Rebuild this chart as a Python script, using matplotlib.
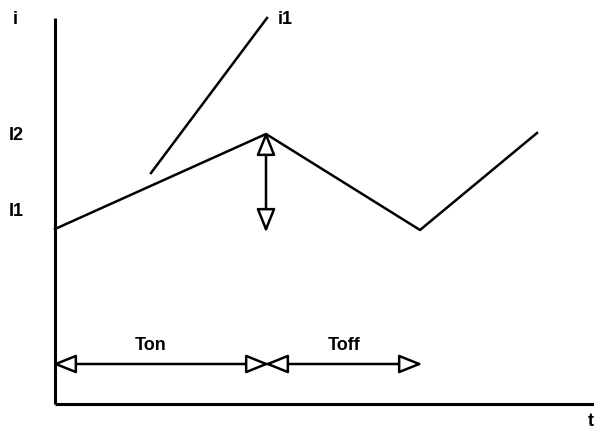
import matplotlib
matplotlib.use('Agg')
import matplotlib.pyplot as plt
from matplotlib.patches import FancyArrowPatch, ArrowStyle

# schematic units: t along the time axis, i along the current axis (origin at the axes corner)
wave_t = [0, 211, 365, 482]
wave_i = [175, 270, 174, 271]
i1_t = [96, 212]
i1_i = [231, 386]
t_max = 539
i_max = 386
t_on = 212
t_off = 365
arrow_level = 40
i1_level = 174
i2_level = 270

fig = plt.figure(figsize=(5.94, 4.30), dpi=100)
ax = fig.add_axes([0, 0, 1, 1])
ax.set_xlim(-55, 539)
ax.set_ylim(-26, 404)
ax.axis('off')

# axes drawn as plain lines
ax.plot([0, 0], [0, i_max], color='black', lw=2.2, solid_capstyle='butt')
ax.plot([0, t_max], [0, 0], color='black', lw=2.2, solid_capstyle='butt')

ax.plot(wave_t, wave_i, color='black', lw=1.8)
ax.plot(i1_t, i1_i, color='black', lw=1.8)

style = ArrowStyle('<|-|>', head_length=14.4, head_width=5.8)
pad = 2.5  # matplotlib pulls the tips in by the stroke width


def dbl_arrow(p0, p1, vertical=False):
    if vertical:
        s = 1 if p1[1] > p0[1] else -1
        p0 = (p0[0], p0[1] - s * pad)
        p1 = (p1[0], p1[1] + s * pad)
    else:
        p0 = (p0[0] - pad, p0[1])
        p1 = (p1[0] + pad, p1[1])
    a = FancyArrowPatch(p0, p1, arrowstyle=style, shrinkA=0, shrinkB=0,
                        facecolor='white', edgecolor='black', lw=1.8, zorder=3)
    ax.add_patch(a)


dbl_arrow((0, arrow_level), (t_on, arrow_level))
dbl_arrow((t_on, arrow_level), (t_off, arrow_level))
dbl_arrow((wave_t[1], i2_level), (wave_t[1], i1_level), vertical=True)

font = dict(family=['Liberation Sans', 'DejaVu Sans'], fontweight='bold', fontsize=13,
            ha='center', va='center')
ax.text(-40, 385, 'i', **font)
ax.text(-39, 268, 'I2', **font)
ax.text(-39, 192, 'I1', **font)
ax.text(230, 385, 'i1', **font)
ax.text(96, 58, 'Ton', **font)
ax.text(289, 58, 'Toff', **font)
ax.text(536, -18, 't', **font)

fig.savefig('out.png', dpi=100)
